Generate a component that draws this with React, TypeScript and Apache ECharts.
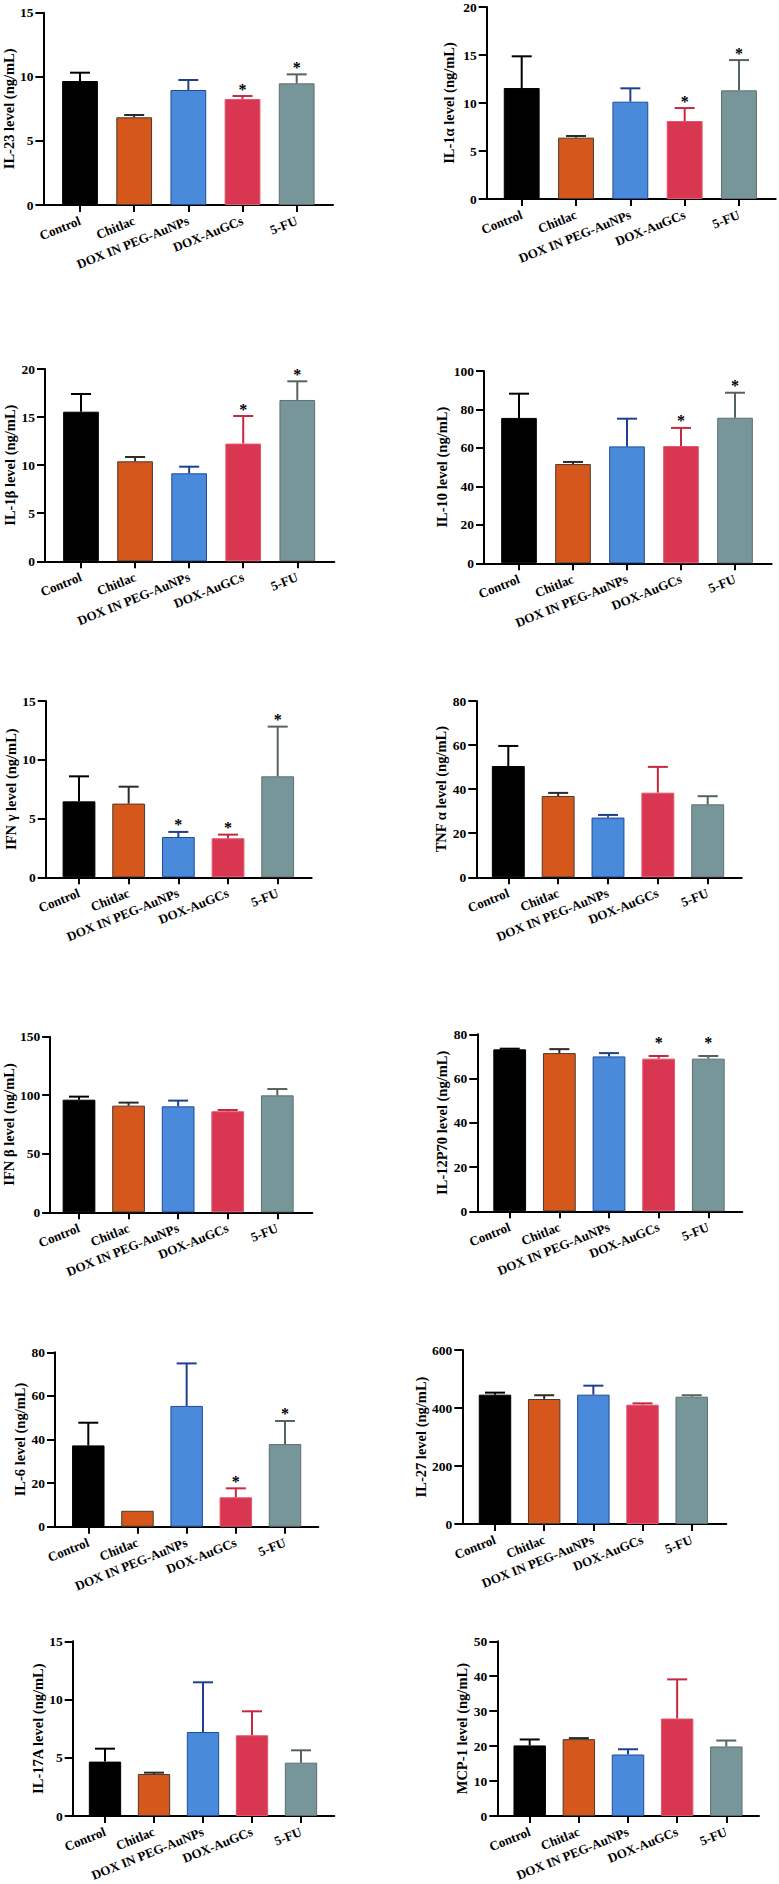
import React, { useEffect, useRef } from "react";
import * as echarts from "echarts";

const categories = ["Control", "Chitlac", "DOX IN PEG-AuNPs", "DOX-AuGCs", "5-FU"];

const il23Mean = [9.67, 6.84, 8.97, 8.27, 9.49];
const il23Sd = [0.65, 0.18, 0.78, 0.23, 0.7];
const il23Star = [0, 0, 0, 1, 1];

const il1aMean = [11.54, 6.38, 10.12, 8.11, 11.3];
const il1aSd = [3.3, 0.17, 1.39, 1.35, 3.15];
const il1aStar = [0, 0, 0, 1, 1];

const il1bMean = [15.56, 10.4, 9.15, 12.24, 16.78];
const il1bSd = [1.84, 0.45, 0.69, 2.87, 1.94];
const il1bStar = [0, 0, 0, 1, 1];

const il10Mean = [75.6, 51.6, 60.8, 61.0, 75.7];
const il10Sd = [12.6, 1.1, 14.4, 9.4, 13.0];
const il10Star = [0, 0, 0, 1, 1];

const ifngMean = [6.46, 6.27, 3.43, 3.32, 8.59];
const ifngSd = [2.13, 1.44, 0.43, 0.31, 4.23];
const ifngStar = [0, 0, 1, 1, 1];

const tnfaMean = [50.5, 36.9, 27.1, 38.4, 33.1];
const tnfaSd = [9.1, 1.4, 1.2, 11.7, 3.7];
const tnfaStar = [0, 0, 0, 0, 0];

const ifnbMean = [96.2, 91.1, 90.5, 86.3, 99.9];
const ifnbSd = [2.6, 2.6, 4.9, 1.1, 5.4];
const ifnbStar = [0, 0, 0, 0, 0];

const il12Mean = [73.2, 71.5, 70.0, 69.0, 69.0];
const il12Sd = [0.3, 1.8, 1.5, 1.2, 1.2];
const il12Star = [0, 0, 0, 1, 1];

const il6Mean = [37.3, 7.3, 55.4, 13.5, 37.9];
const il6Sd = [10.4, 0, 19.5, 4.1, 10.6];
const il6Star = [0, 0, 0, 1, 1];

const il27Mean = [446, 431, 446, 411.5, 439];
const il27Sd = [7, 13, 31, 4.5, 5];
const il27Star = [0, 0, 0, 0, 0];

const il17Mean = [4.67, 3.61, 7.21, 6.93, 4.58];
const il17Sd = [1.11, 0.11, 4.27, 2.06, 1.06];
const il17Star = [0, 0, 0, 0, 0];

const mcpMean = [20.2, 22.0, 17.6, 27.9, 19.9];
const mcpSd = [1.7, 0.3, 1.5, 11.2, 1.7];
const mcpStar = [0, 0, 0, 0, 0];

const yTitles = [
  "IL-23 level (ng/mL)",
  "IL-1α level (ng/mL)",
  "IL-1β level (ng/mL)",
  "IL-10 level (ng/mL)",
  "IFN γ level (ng/mL)",
  "TNF α level (ng/mL)",
  "IFN β level (ng/mL)",
  "IL-12P70 level (ng/mL)",
  "IL-6 level (ng/mL)",
  "IL-27 level (ng/mL)",
  "IL-17A level (ng/mL)",
  "MCP-1 level (ng/mL)",
];
const yMax = [15, 20, 20, 100, 15, 80, 150, 80, 80, 600, 15, 50];
const yInterval = [5, 5, 5, 20, 5, 20, 50, 20, 20, 200, 5, 10];

const panels = [
  { mean: il23Mean, sd: il23Sd, star: il23Star },
  { mean: il1aMean, sd: il1aSd, star: il1aStar },
  { mean: il1bMean, sd: il1bSd, star: il1bStar },
  { mean: il10Mean, sd: il10Sd, star: il10Star },
  { mean: ifngMean, sd: ifngSd, star: ifngStar },
  { mean: tnfaMean, sd: tnfaSd, star: tnfaStar },
  { mean: ifnbMean, sd: ifnbSd, star: ifnbStar },
  { mean: il12Mean, sd: il12Sd, star: il12Star },
  { mean: il6Mean, sd: il6Sd, star: il6Star },
  { mean: il27Mean, sd: il27Sd, star: il27Star },
  { mean: il17Mean, sd: il17Sd, star: il17Star },
  { mean: mcpMean, sd: mcpSd, star: mcpStar },
];

// layout: y-axis x, top of y-axis, zero line, end of x-axis, first & last category centre, name gap, star lift
const layout = [
  [43.3, 12.7, 205, 333, 80, 296.7, 27, 7],
  [486.7, 6.7, 199, 775.7, 521.7, 739, 30, 7],
  [45, 369, 561.3, 334.3, 81, 297.3, 25, 7],
  [484, 371, 563.3, 771.7, 519, 735, 29, 7],
  [45.7, 701, 877.3, 311.7, 79, 277.7, 22, 7],
  [476.3, 701, 877.3, 741.7, 508.3, 707.7, 26, 7],
  [45, 1036.7, 1212.3, 312.3, 79, 277.3, 30, 7],
  [477.3, 1034.3, 1211.3, 742.3, 509.7, 708.3, 26, 13],
  [55, 1352.3, 1526.7, 318.3, 88.3, 285, 24, 7],
  [462.3, 1350, 1524, 726.3, 495, 691.7, 30, 7],
  [72.7, 1641.3, 1816, 334.3, 105, 301, 24, 7],
  [497.3, 1641.3, 1816, 759, 529.7, 726.3, 24, 7],
];

const fills = ["#000000", "#D5571B", "#4A8ADB", "#D93652", "#77969A"];
const borders = ["#000000", "#4A3A2E", "#1F4B9A", "#E2566C", "#5F6D6D"];
const errColors = ["#000000", "#2E2A26", "#1F3F8F", "#C8283E", "#55635F"];

const FONT = "'Liberation Serif', 'Times New Roman', serif";

export default function App() {
  const ref = useRef<HTMLDivElement>(null);
  useEffect(() => {
    if (!ref.current) return;
    const chart = echarts.init(ref.current, null, { renderer: "svg" });
    const grid: any[] = [];
    const xAxis: any[] = [];
    const yAxis: any[] = [];
    const series: any[] = [];
    panels.forEach((p, i) => {
      const [ax, top, zero, xEnd, c1, c5, gap, lift] = layout[i];
      const s = (c5 - c1) / 4;
      const height = zero - top;
      grid.push({ left: ax, top, width: xEnd - ax, height });
      grid.push({ left: c1 - s / 2, top, width: 5 * s, height });
      xAxis.push({
        type: "value",
        gridIndex: 2 * i,
        min: 0,
        max: 1,
        axisLine: { show: true, lineStyle: { color: "#000", width: 2 } },
        axisTick: { show: false },
        axisLabel: { show: false },
        splitLine: { show: false },
      });
      yAxis.push({
        type: "value",
        gridIndex: 2 * i,
        min: 0,
        max: yMax[i],
        interval: yInterval[i],
        name: yTitles[i],
        nameLocation: "middle",
        nameGap: gap,
        nameTextStyle: { fontFamily: FONT, fontWeight: "bold", fontSize: 14.5, color: "#000" },
        axisLine: { show: true, lineStyle: { color: "#000", width: 2 } },
        axisTick: { show: true, length: 8, lineStyle: { color: "#000", width: 2 } },
        axisLabel: { margin: 10, fontFamily: FONT, fontWeight: "bold", fontSize: 13.5, color: "#000" },
        splitLine: { show: false },
      });
      xAxis.push({
        type: "category",
        gridIndex: 2 * i + 1,
        data: categories,
        axisLine: { show: false },
        axisTick: { show: true, alignWithLabel: true, length: 7, lineStyle: { color: "#000", width: 2 } },
        axisLabel: {
          interval: 0,
          rotate: 22,
          margin: 15,
          fontFamily: FONT,
          fontWeight: "bold",
          fontSize: 13,
          color: "#000",
        },
        splitLine: { show: false },
      });
      yAxis.push({
        type: "value",
        gridIndex: 2 * i + 1,
        min: 0,
        max: yMax[i],
        interval: yInterval[i],
        show: false,
      });
      series.push({
        type: "bar",
        xAxisIndex: 2 * i + 1,
        yAxisIndex: 2 * i + 1,
        barWidth: "66%",
        data: p.mean.map((v, j) => ({
          value: v,
          itemStyle: { color: fills[j], borderColor: borders[j], borderWidth: 1 },
        })),
      });
      series.push({
        type: "custom",
        xAxisIndex: 2 * i + 1,
        yAxisIndex: 2 * i + 1,
        encode: { x: 0, y: 1 },
        data: p.mean.map((v, j) => [j, v, p.sd[j], p.star[j]]),
        z: 5,
        renderItem: (params: any, api: any) => {
          const j = api.value(0);
          const v = api.value(1);
          const sd = api.value(2);
          const star = api.value(3);
          const base = api.coord([j, v]);
          const tip = api.coord([j, v + sd]);
          const color = errColors[j];
          const children: any[] = [];
          if (sd > 0) {
            children.push({
              type: "line",
              shape: { x1: base[0], y1: base[1], x2: tip[0], y2: tip[1] },
              style: { stroke: color, lineWidth: 2 },
            });
            children.push({
              type: "line",
              shape: { x1: tip[0] - 10, y1: tip[1], x2: tip[0] + 10, y2: tip[1] },
              style: { stroke: color, lineWidth: 2 },
            });
          }
          if (star) {
            children.push({
              type: "text",
              x: tip[0],
              y: tip[1] - lift,
              style: {
                text: "*",
                font: `bold 16px ${FONT}`,
                fill: "#000",
                align: "center",
                verticalAlign: "middle",
              },
            });
          }
          return { type: "group", children };
        },
      });
    });
    chart.setOption({
      animation: false,
      backgroundColor: "#ffffff",
      grid,
      xAxis,
      yAxis,
      series,
    });
    return () => chart.dispose();
  }, []);
  return (
    <div
      ref={ref}
      style={{ position: "absolute", left: 0, top: 0, width: 779, height: 1884, background: "#fff" }}
    />
  );
}
